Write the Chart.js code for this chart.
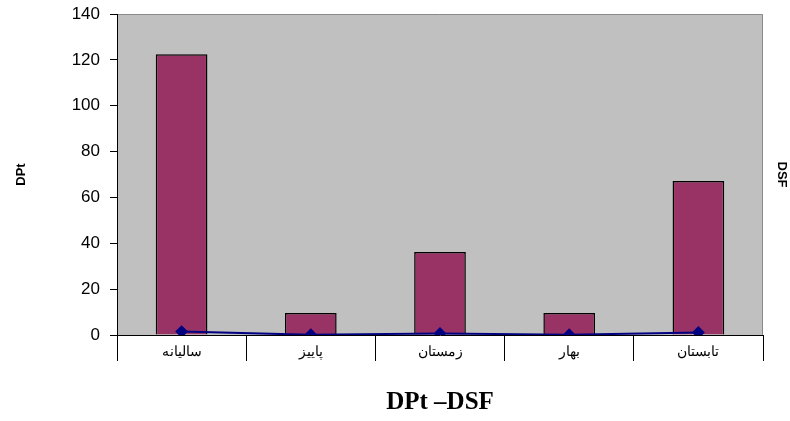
<!DOCTYPE html>
<html>
<head>
<meta charset="utf-8">
<script src="https://cdn.jsdelivr.net/npm/chart.js@4/dist/chart.umd.min.js"></script>
<style>
  html, body { margin: 0; padding: 0; background: #ffffff; }
  #wrap { width: 790px; height: 421px; }
</style>
</head>
<body>
<div id="wrap"><canvas id="c" width="790" height="421"></canvas></div>
<script>
// Seasons (plus the annual total)
const categories = ['سالیانه', 'پاییز', 'زمستان', 'بهار', 'تابستان'];
// DPt values per period
const dptValues = [122.5, 9.6, 36.2, 9.6, 67.2];
// DSF values per period
const dsfValues = [1.5, 0.1, 0.7, 0.1, 1.1];
// Left axis ticks
const yTicks = [0, 20, 40, 60, 80, 100, 120, 140];

// Grey plot area with a thin frame
const plotBackground = {
  id: 'plotBackground',
  beforeDraw(chart) {
    const { ctx, chartArea: a } = chart;
    ctx.save();
    ctx.fillStyle = '#c0c0c0';
    ctx.fillRect(a.left, a.top, a.right - a.left, a.bottom - a.top);
    ctx.strokeStyle = '#8a8a8a';
    ctx.lineWidth = 1;
    ctx.beginPath();
    ctx.moveTo(a.left, a.top + 0.5);
    ctx.lineTo(a.right - 0.5, a.top + 0.5);
    ctx.lineTo(a.right - 0.5, a.bottom);
    ctx.stroke();
    ctx.restore();
  }
};

// Vertical axes take no extra room above the plot for their end labels
function fixVertical(width) {
  return function (scale) {
    scale.width = width;
    scale.paddingTop = 0;
    scale.paddingBottom = 0;
  };
}

new Chart(document.getElementById('c'), {
  data: {
    labels: categories,
    datasets: [
      {
        type: 'line',
        label: 'DSF',
        data: dsfValues,
        borderColor: '#000080',
        backgroundColor: '#000080',
        borderWidth: 2,
        pointStyle: 'rectRot',
        pointRadius: 5,
        pointBackgroundColor: '#000080',
        pointBorderColor: '#000080',
        yAxisID: 'y',
        order: 0
      },
      {
        type: 'bar',
        label: 'DPt',
        data: dptValues,
        backgroundColor: '#993366',
        borderColor: '#000000',
        borderWidth: 1.5,
        barPercentage: 0.4,
        categoryPercentage: 1,
        yAxisID: 'y',
        order: 1
      }
    ]
  },
  options: {
    responsive: false,
    animation: false,
    devicePixelRatio: 1,
    layout: { padding: { top: 14, left: 0, right: 0, bottom: 0 } },
    plugins: {
      legend: { display: false },
      tooltip: { enabled: false }
    },
    scales: {
      x: {
        offset: true,
        grid: {
          offset: true,
          drawOnChartArea: false,
          color: '#000000',
          tickLength: 26,
          lineWidth: 1
        },
        border: { color: '#000000', width: 1 },
        ticks: {
          color: '#000000',
          font: { family: 'Arial, "Liberation Sans", sans-serif', size: 14 },
          padding: -17,
          maxRotation: 0
        },
        title: {
          display: true,
          text: 'DPt –DSF',
          color: '#000000',
          font: { family: '"Times New Roman", "Liberation Serif", serif', size: 25, weight: 'bold' },
          padding: { top: 11, bottom: 3 }
        },
        afterFit(scale) { scale.height = 86; }
      },
      y: {
        position: 'left',
        min: 0,
        max: 140,
        afterBuildTicks(scale) { scale.ticks = yTicks.map(v => ({ value: v })); },
        grid: {
          drawOnChartArea: false,
          color: '#000000',
          tickLength: 7
        },
        border: { color: '#000000', width: 1 },
        ticks: {
          color: '#000000',
          font: { family: 'Arial, "Liberation Sans", sans-serif', size: 17 },
          padding: 10
        },
        title: {
          display: true,
          text: 'DPt',
          color: '#000000',
          font: { family: 'Arial, "Liberation Sans", sans-serif', size: 13, weight: 'bold' },
          padding: { top: 14, bottom: 0 }
        },
        afterFit: fixVertical(117)
      },
      y2: {
        position: 'right',
        min: 0,
        max: 140,
        grid: { display: false },
        border: { display: false },
        ticks: { display: false },
        title: {
          display: true,
          text: 'DSF',
          color: '#000000',
          font: { family: 'Arial, "Liberation Sans", sans-serif', size: 13, weight: 'bold' },
          padding: { top: 1, bottom: 0 }
        },
        afterFit: fixVertical(27)
      }
    }
  },
  plugins: [plotBackground]
});
</script>
</body>
</html>
